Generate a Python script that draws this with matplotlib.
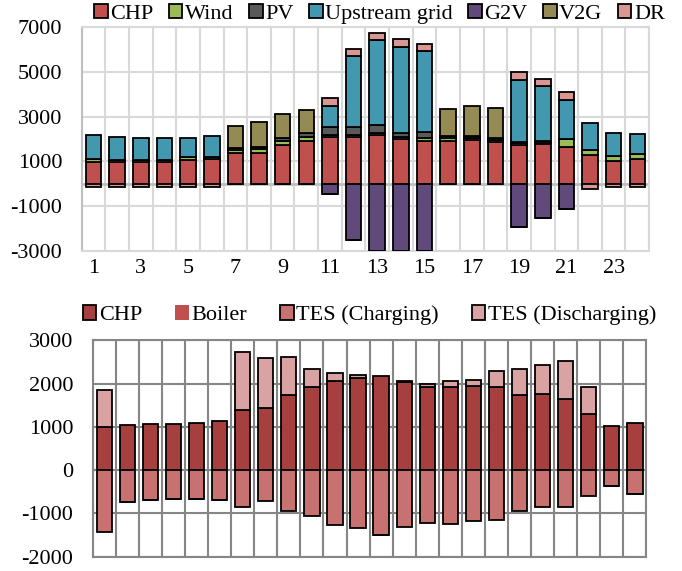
import numpy as np
import matplotlib
matplotlib.use("Agg")
import matplotlib.pyplot as plt

plt.rcParams['font.family'] = ['Liberation Serif', 'DejaVu Serif']
plt.rcParams['axes.unicode_minus'] = False

hours = np.arange(1, 25)

# electricity supply (kW), positives above zero, consumption below
chp = [990, 990, 990, 990, 1050, 1110, 1360, 1390, 1730, 1930, 2100, 2110,
       2180, 1990, 1930, 1930, 1960, 1880, 1730, 1760, 1630, 1280, 1010, 1100]
wind = [120, 80, 70, 70, 150, 80, 150, 150, 200, 150, 60, 60,
        80, 100, 120, 120, 100, 70, 100, 80, 360, 230, 240, 230]
pv = [0, 0, 0, 0, 0, 0, 70, 90, 110, 170, 400, 390,
      350, 160, 280, 90, 80, 80, 50, 60, 0, 0, 0, 0]
upstream = [1060, 1040, 990, 970, 860, 950, 0, 0, 0, 0, 930, 3180,
            3810, 3880, 3620, 0, 0, 0, 2780, 2490, 1770, 1200, 1040, 900]
g2v = [0, 0, 0, 0, 0, 0, 0, 0, 0, 0, -470, -2510,
       -3000, -3000, -3000, 0, 0, 0, -1930, -1520, -1130, 0, 0, 0]
v2g = [0, 0, 0, 0, 0, 0, 1020, 1120, 1070, 1050, 0, 0,
       0, 0, 0, 1210, 1360, 1380, 0, 0, 0, 0, 0, 0]
dr = [-170, -170, -150, -150, -150, -150, 0, 0, 0, 0, 340, 300,
      340, 330, 300, 0, 0, 0, 330, 310, 330, -220, -150, -150]

# heat supply (kW)
chp_heat = [1000, 1050, 1060, 1060, 1080, 1130, 1390, 1430, 1730, 1920, 2070, 2125,
            2180, 2030, 1920, 1920, 1950, 1920, 1740, 1750, 1635, 1305, 1030, 1095]
boiler = [0] * 24
tes_charge = [-1440, -740, -690, -660, -660, -680, -850, -720, -940, -1050, -1275, -1345,
              -1500, -1305, -1230, -1245, -1180, -1140, -940, -860, -860, -600, -370, -550]
tes_discharge = [850, 0, 0, 0, 0, 0, 1330, 1170, 885, 410, 170, 75,
                 0, 20, 80, 130, 140, 370, 605, 685, 885, 620, 0, 0]


def stacked(ax, series, width=0.66):
    pos = np.zeros(len(hours))
    neg = np.zeros(len(hours))
    for vals, color, label, edge in series:
        vals = np.asarray(vals, dtype=float)
        bottom = np.where(vals > 0, pos, neg)
        ax.bar(hours, vals, width, bottom=bottom, color=color,
               edgecolor='black' if edge else 'none', linewidth=1.3,
               label=label, zorder=3)
        pos = pos + np.where(vals > 0, vals, 0)
        neg = neg + np.where(vals > 0, 0, vals)


fig = plt.figure(figsize=(6.82, 5.71), dpi=100)

# electricity balance
ax1 = fig.add_axes([0.1198, 0.561, 0.832, 0.391])
stacked(ax1, [
    (chp, '#C0504D', 'CHP', True),
    (wind, '#9BBB59', 'Wind', True),
    (pv, '#595959', 'PV', True),
    (upstream, '#4198AF', 'Upstream grid', True),
    (g2v, '#604A7B', 'G2V', True),
    (v2g, '#948A54', 'V2G', True),
    (dr, '#D99694', 'DR', True),
])
ax1.set_xlim(0.5, 24.5)
ax1.set_ylim(-3000, 7000)
ax1.set_yticks(np.arange(-3000, 7001, 2000))
ax1.set_xticks(np.arange(1, 24, 2))
ax1.set_xticks(np.arange(0.5, 25, 1), minor=True)
ax1.tick_params(axis='both', which='both', length=0, labelsize=16)
ax1.tick_params(axis='x', pad=6)
ax1.tick_params(axis='y', pad=14)
ax1.grid(True, which='major', axis='y', color='#D9D9D9', lw=1.5, zorder=0)
ax1.grid(True, which='minor', axis='x', color='#D9D9D9', lw=1.5, zorder=0)
ax1.axhline(0, color='#BFBFBF', lw=2, zorder=2)
for s in ax1.spines.values():
    s.set_color('#D9D9D9')
    s.set_linewidth(1.5)
ax1.spines['left'].set_color('#BFBFBF')
ax1.legend(loc='center', bbox_to_anchor=(0.525, 1.06), ncol=7, frameon=False,
           fontsize=16, handlelength=0.6, handleheight=0.6, handletextpad=0.12,
           columnspacing=0.7, borderaxespad=0)

# heat balance
ax2 = fig.add_axes([0.1359, 0.025, 0.812, 0.379])
stacked(ax2, [
    (chp_heat, '#A5403E', 'CHP', True),
    (boiler, '#C0504D', 'Boiler', False),
    (tes_charge, '#C87171', 'TES (Charging)', True),
    (tes_discharge, '#D9A3A3', 'TES (Discharging)', True),
])
ax2.set_xlim(0.5, 24.5)
ax2.set_ylim(-2000, 3000)
ax2.set_yticks(np.arange(-2000, 3001, 1000))
ax2.set_xticks([])
ax2.set_xticks(np.arange(0.5, 25, 1), minor=True)
ax2.tick_params(axis='both', which='both', length=0, labelsize=16)
ax2.tick_params(axis='y', pad=14)
ax2.grid(True, which='major', axis='y', color='#868686', lw=1.5, zorder=0)
ax2.grid(True, which='minor', axis='x', color='#868686', lw=1.5, zorder=0)
for s in ax2.spines.values():
    s.set_color('#868686')
    s.set_linewidth(1.5)
ax2.legend(loc='center', bbox_to_anchor=(0.5, 1.115), ncol=4, frameon=False,
           fontsize=16, handlelength=0.6, handleheight=0.6, handletextpad=0.12,
           columnspacing=1.5, borderaxespad=0)

fig.savefig('out.png', dpi=100)
